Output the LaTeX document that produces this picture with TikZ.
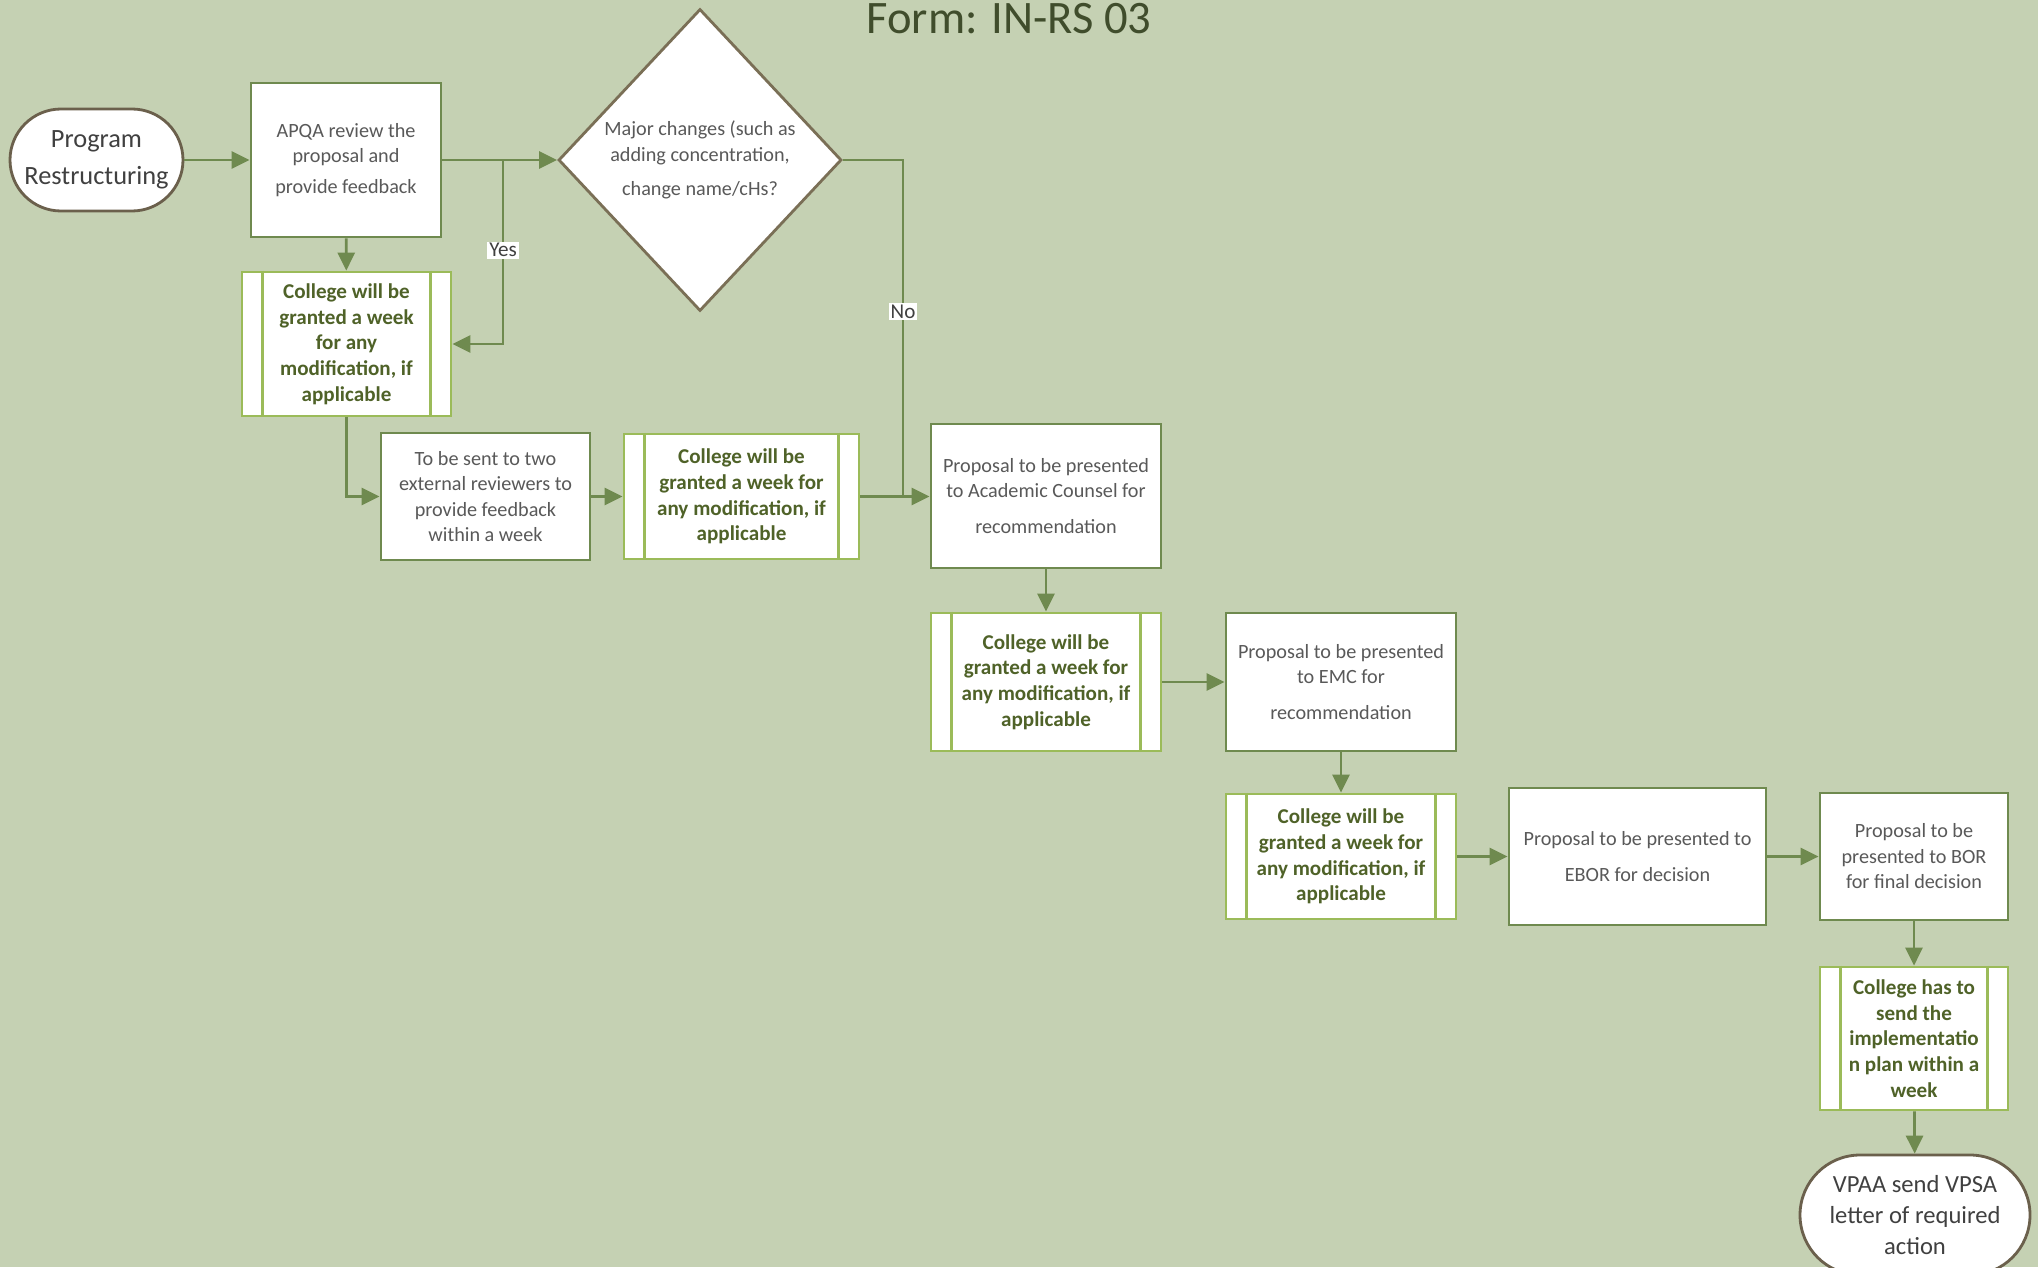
\documentclass[tikz,border=0pt]{standalone}
\usepackage{fontspec}
\setmainfont{Carlito}
\usetikzlibrary{arrows.meta}
\usetikzlibrary{shapes.geometric}

\definecolor{bgsage}{HTML}{C5D1B3}
\definecolor{linegreen}{HTML}{6F8A4F}
\definecolor{subgreen}{HTML}{9BBB59}
\definecolor{termbrown}{HTML}{6B604C}
\definecolor{decbrown}{HTML}{7A6F56}
\definecolor{textgray}{HTML}{595959}
\definecolor{darktext}{HTML}{404040}
\definecolor{boldgreen}{HTML}{4F6228}
\definecolor{titlegreen}{HTML}{404D2C}

\tikzset{
  process/.style={draw=linegreen, fill=white, line width=1.6pt, align=center, text=textgray, inner sep=2pt, font=\fontsize{11.5}{14.5}\selectfont},
  subproc/.style={draw=subgreen, fill=white, line width=1.6pt, align=center, text=boldgreen, inner sep=2pt, font=\bfseries\fontsize{12}{14.6}\selectfont},
  terminal/.style={draw=termbrown, fill=white, line width=1.6pt, align=center, text=darktext, font=\fontsize{15}{21}\selectfont},
  decision/.style={diamond, draw=decbrown, fill=white, line width=1.6pt, inner sep=0pt},
  flow/.style={draw=linegreen, line width=1.6pt, -{Triangle[length=0.36cm,width=0.34cm]}},
  tag/.style={fill=white, text=darktext, inner sep=1pt, font=\fontsize{12}{14}\selectfont}
}

\begin{document}
\begin{tikzpicture}
\useasboundingbox (0,0) rectangle (40.76,-25.34);
\fill[bgsage] (0,0) rectangle (40.76,-25.34);

\node[anchor=base, text=titlegreen, font=\fontsize{26.5}{30}\selectfont] (title) at (20.18,-0.66) {Form: IN-RS 03};

% first row
\node[terminal, minimum width=3.46cm, minimum height=2.04cm, rounded corners=1.02cm] (start) at (1.93,-3.2) {Program\\Restructuring};
\node[process, minimum width=3.8cm, minimum height=3.08cm] (apqa) at (6.92,-3.2) {APQA review the\\proposal and\\[3pt]provide feedback};
\node[decision, minimum width=5.66cm, minimum height=6.04cm] (major) at (14,-3.2) {};
\node[process, draw=none, fill=none] (major text) at (major) {Major changes (such as\\adding concentration,\\[5pt]change name/cHs?};

% reviews
\node[subproc, minimum width=4.18cm, minimum height=2.88cm] (grant1) at (6.93,-6.88) {College will be\\granted a week\\for any\\modification, if\\applicable};
\node[process, minimum width=4.18cm, minimum height=2.54cm] (external) at (9.71,-9.93) {To be sent to two\\external reviewers to\\provide feedback\\within a week};
\node[subproc, minimum width=4.7cm, minimum height=2.5cm] (grant2) at (14.83,-9.93) {College will be\\granted a week for\\any modification, if\\applicable};

% councils
\node[process, minimum width=4.6cm, minimum height=2.88cm] (academic) at (20.92,-9.92) {Proposal to be presented\\to Academic Counsel for\\[6pt]recommendation};
\node[subproc, minimum width=4.6cm, minimum height=2.76cm] (grant3) at (20.92,-13.64) {College will be\\granted a week for\\any modification, if\\applicable};
\node[process, minimum width=4.6cm, minimum height=2.76cm] (emc) at (26.82,-13.64) {Proposal to be presented\\to EMC for\\[6pt]recommendation};
\node[subproc, minimum width=4.6cm, minimum height=2.5cm] (grant4) at (26.82,-17.13) {College will be\\granted a week for\\any modification, if\\applicable};
\node[process, minimum width=5.14cm, minimum height=2.74cm] (ebor) at (32.75,-17.13) {Proposal to be presented to\\[6pt]EBOR for decision};
\node[process, minimum width=3.76cm, minimum height=2.54cm] (bor) at (38.28,-17.13) {Proposal to be\\presented to BOR\\for final decision};
\node[subproc, minimum width=3.76cm, minimum height=2.86cm] (plan) at (38.28,-20.77) {College has to\\send the\\implementatio\\n plan within a\\week};
\node[terminal, minimum width=4.6cm, minimum height=2.4cm, rounded corners=1.2cm, font=\fontsize{14}{17.5}\selectfont] (finish) at (38.3,-24.3) {VPAA send VPSA\\letter of required\\action};

\foreach \g in {grant1,grant2,grant3,grant4,plan}
  \draw[subgreen, line width=1.3pt] ([xshift=.44cm]\g.north west) -- ([xshift=.44cm]\g.south west)
    ([xshift=-.44cm]\g.north east) -- ([xshift=-.44cm]\g.south east);

% connectors
\coordinate (yes split) at (10.06,-3.2);
\coordinate (no turn) at (18.06,-3.2);
\draw[flow] (start) -- (apqa);
\draw[flow] (apqa) -- (major);
\draw[flow] (yes split) |- node[tag, pos=.245] (yes) {Yes} (grant1.east);
\draw[flow] (apqa) -- (grant1);
\draw[flow] (grant1.south) |- (external.west);
\draw[flow] (external) -- (grant2);
\draw[flow] (grant2.east) -- (grant2.east -| academic.west);
\draw[draw=linegreen, line width=1.6pt] (major.east) -- (no turn) -- node[tag, pos=.45] (no) {No} (no turn |- grant2.east);
\draw[flow] (academic) -- (grant3);
\draw[flow] (grant3) -- (emc);
\draw[flow] (emc) -- (grant4);
\draw[flow] (grant4) -- (ebor);
\draw[flow] (ebor) -- (bor);
\draw[flow] (bor) -- (plan);
\draw[flow] (plan) -- (finish);
\end{tikzpicture}
\end{document}
